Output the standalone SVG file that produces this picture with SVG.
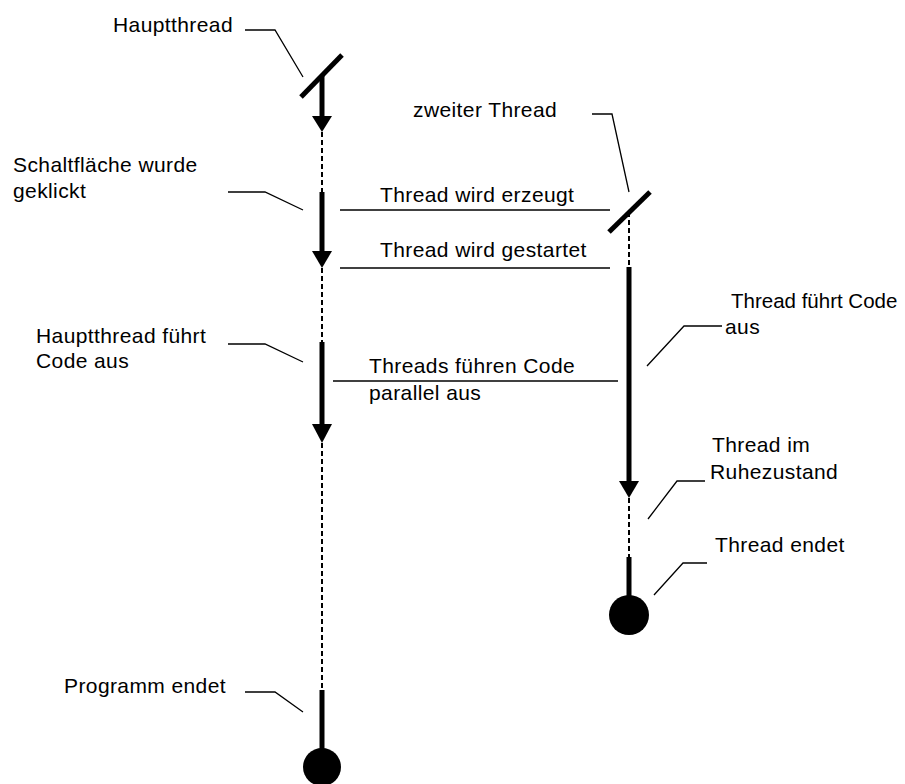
<svg xmlns="http://www.w3.org/2000/svg" width="905" height="784" viewBox="0 0 905 784">
<style>
text{font-family:"Liberation Sans",Arial,sans-serif;font-size:21px;letter-spacing:0.4px;fill:#000}
.thick{stroke:#000;stroke-width:5;fill:none}
.dash{stroke:#000;stroke-width:2;stroke-dasharray:5 3;fill:none}
.thin{stroke:#000;stroke-width:1.3;fill:none}
.head{fill:#000}
</style>
<rect width="905" height="784" fill="#fff"/>
<g id="main-thread">
<line class="thick" x1="301" y1="97" x2="342" y2="55"/>
<line class="thick" x1="322" y1="76" x2="322" y2="120"/>
<polygon class="head" points="312,116 332,116 322,132"/>
<line class="dash" x1="322" y1="132" x2="322" y2="192"/>
<line class="thick" x1="322" y1="192" x2="322" y2="255"/>
<polygon class="head" points="312,251 332,251 322,268"/>
<line class="dash" x1="322" y1="268" x2="322" y2="342"/>
<line class="thick" x1="322" y1="342" x2="322" y2="428"/>
<polygon class="head" points="312,424 332,424 322,443"/>
<line class="dash" x1="322" y1="443" x2="322" y2="690"/>
<line class="thick" x1="322" y1="690" x2="322" y2="755"/>
<circle cx="322" cy="767" r="19" fill="#000"/>
</g>
<g id="second-thread">
<line class="thick" x1="609" y1="232" x2="650" y2="192"/>
<line class="dash" x1="629" y1="212" x2="629" y2="267"/>
<line class="thick" x1="629" y1="267" x2="629" y2="485"/>
<polygon class="head" points="619,481 639,481 629,498"/>
<line class="dash" x1="629" y1="498" x2="629" y2="557"/>
<line class="thick" x1="629" y1="557" x2="629" y2="600"/>
<circle cx="629" cy="615" r="20" fill="#000"/>
</g>
<g id="connectors">
<line class="thin" x1="340" y1="210" x2="610" y2="210"/>
<line class="thin" x1="340" y1="268" x2="610" y2="268"/>
<line class="thin" x1="333" y1="381" x2="618" y2="381"/>
</g>
<g id="messages">
<text x="380" y="202">Thread wird erzeugt</text>
<text x="380" y="257">Thread wird gestartet</text>
<text x="369" y="373">Threads führen Code</text>
<text x="369" y="400">parallel aus</text>
</g>
<g id="label-hauptthread">
<text x="113" y="32">Hauptthread</text>
<polyline class="thin" points="245,30 275,30 303,77"/>
</g>
<g id="label-zweiter">
<text x="413" y="117">zweiter Thread</text>
<polyline class="thin" points="592,114 612,114 629,192"/>
</g>
<g id="label-klick">
<text x="13" y="172">Schaltfläche wurde</text>
<text x="13" y="198">geklickt</text>
<polyline class="thin" points="228,192 265,192 303,210"/>
</g>
<g id="label-haupt-code">
<text x="36" y="343">Hauptthread führt</text>
<text x="36" y="368">Code aus</text>
<polyline class="thin" points="228,344 265,344 303,362"/>
</g>
<g id="label-thread-code">
<text x="731" y="308" style="font-size:20.5px;letter-spacing:0">Thread führt Code</text>
<text x="725" y="334">aus</text>
<polyline class="thin" points="722,326 684,326 647,366"/>
</g>
<g id="label-ruhe">
<text x="712" y="452">Thread im</text>
<text x="710" y="479">Ruhezustand</text>
<polyline class="thin" points="705,481 677,481 648,519"/>
</g>
<g id="label-endet">
<text x="715" y="552">Thread endet</text>
<polyline class="thin" points="707,563 683,563 654,595"/>
</g>
<g id="label-programm">
<text x="64" y="693">Programm endet</text>
<polyline class="thin" points="245,692 275,692 303,712"/>
</g>
</svg>
